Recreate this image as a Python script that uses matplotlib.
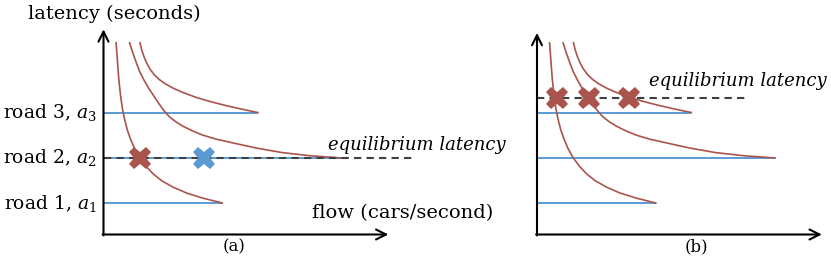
import matplotlib
matplotlib.use("Agg")
import matplotlib.pyplot as plt

plt.rcParams['font.family'] = ['DejaVu Serif']
plt.rcParams['mathtext.fontset'] = 'dejavuserif'

# latency of the three roads (free-flow) and where each curve runs out
road_labels = ["road 1, $a_1$", "road 2, $a_2$", "road 3, $a_3$"]
road_levels = [0.70, 1.70, 2.71]
road_ends = [2.64, 5.29, 3.43]

# latency curves (same in both panels)
curve1_x = [0.28, 0.31, 0.34, 0.38, 0.42, 0.47, 0.53, 0.60, 0.69, 0.80, 0.94, 1.10,
            1.30, 1.55, 1.85, 2.20, 2.64]
curve1_y = [4.26, 3.85, 3.45, 3.08, 2.80, 2.55, 2.32, 2.12, 1.91, 1.71, 1.52, 1.35,
            1.19, 1.05, 0.92, 0.81, 0.70]
curve2_x = [0.58, 0.64, 0.71, 0.80, 0.90, 1.01, 1.13, 1.25, 1.36, 1.47, 1.60, 1.76,
            1.96, 2.20, 2.50, 2.90, 3.40, 3.97, 4.60, 5.29]
curve2_y = [4.26, 4.07, 3.87, 3.63, 3.43, 3.24, 3.06, 2.88, 2.73, 2.61, 2.51, 2.41,
            2.31, 2.21, 2.12, 2.03, 1.92, 1.82, 1.75, 1.70]
curve3_x = [0.81, 0.85, 0.90, 0.96, 1.03, 1.12, 1.23, 1.37, 1.55, 1.78, 2.05, 2.35,
            2.70, 3.05, 3.43]
curve3_y = [4.26, 4.10, 3.95, 3.81, 3.68, 3.56, 3.45, 3.35, 3.25, 3.15, 3.05, 2.96,
            2.87, 2.79, 2.71]
curves = [(curve1_x, curve1_y), (curve2_x, curve2_y), (curve3_x, curve3_y)]

# equilibrium in each panel
eq_a = 1.70
eq_a_end = 6.92
marks_a_red = [0.81]
marks_a_blue = [2.23]
eq_b = 3.03
eq_b_end = 4.62
marks_b_red = [0.44, 1.16, 2.04]

red = "#a9544c"
blue = "#5b9bd5"

fig = plt.figure(figsize=(8.31, 2.61), dpi=100)
ax_a = fig.add_axes([0, 0, 420 / 831, 1])
ax_b = fig.add_axes([420 / 831, 0, 411 / 831, 1])


def draw_panel(ax, x0, y_top, x_tip):
    ax.set_xlim(-x0 / 45, (ax.get_position().width * 831 - x0) / 45)
    ax.set_ylim(-26.5 / 45, 234.5 / 45)
    ax.axis('off')
    arrow = dict(arrowstyle='->', lw=1.5, color='black', shrinkA=0, shrinkB=0,
                 mutation_scale=18)
    ax.annotate('', xy=(0, y_top), xytext=(0, -0.02), arrowprops=arrow)
    ax.annotate('', xy=(x_tip, 0), xytext=(-0.02, 0), arrowprops=arrow)
    for lvl, end in zip(road_levels, road_ends):
        ax.plot([0, end], [lvl, lvl], color=blue, lw=1.4, solid_capstyle='butt')
    for cx, cy in curves:
        ax.plot(cx, cy, color=red, lw=1.2)


draw_panel(ax_a, 103.5, 4.56, 6.33)
draw_panel(ax_b, 117, 4.48, 6.33)

# panel (a)
ax_a.plot([0, eq_a_end], [eq_a, eq_a], color="#404040", lw=1.5, ls=(0, (3.5, 2.5)))
ax_a.plot(marks_a_red, [eq_a] * len(marks_a_red), 'X', color=red, ms=16, mew=0)
ax_a.plot(marks_a_blue, [eq_a] * len(marks_a_blue), 'X', color=blue, ms=16, mew=0)
for lbl, lvl in zip(road_labels, road_levels):
    ax_a.text(-0.15, lvl, lbl, ha='right', va='center', fontsize=13.5)
ax_a.text(-1.68, 4.91, "latency (seconds)", ha='left', va='center', fontsize=14)
ax_a.text(4.64, 0.47, "flow (cars/second)", ha='left', va='center', fontsize=14)
ax_a.text(4.98, 1.98, "equilibrium latency", ha='left', va='center', fontsize=13,
          style='italic')
ax_a.text(2.91, -0.28, "(a)", ha='center', va='center', fontsize=12)

# panel (b)
ax_b.plot([0, eq_b_end], [eq_b, eq_b], color="#404040", lw=1.5, ls=(0, (3.5, 2.5)))
ax_b.plot(marks_b_red, [eq_b] * len(marks_b_red), 'X', color=red, ms=16, mew=0)
ax_b.text(2.49, 3.41, "equilibrium latency", ha='left', va='center', fontsize=13,
          style='italic')
ax_b.text(3.55, -0.28, "(b)", ha='center', va='center', fontsize=12)

fig.savefig("out.png", dpi=100)
